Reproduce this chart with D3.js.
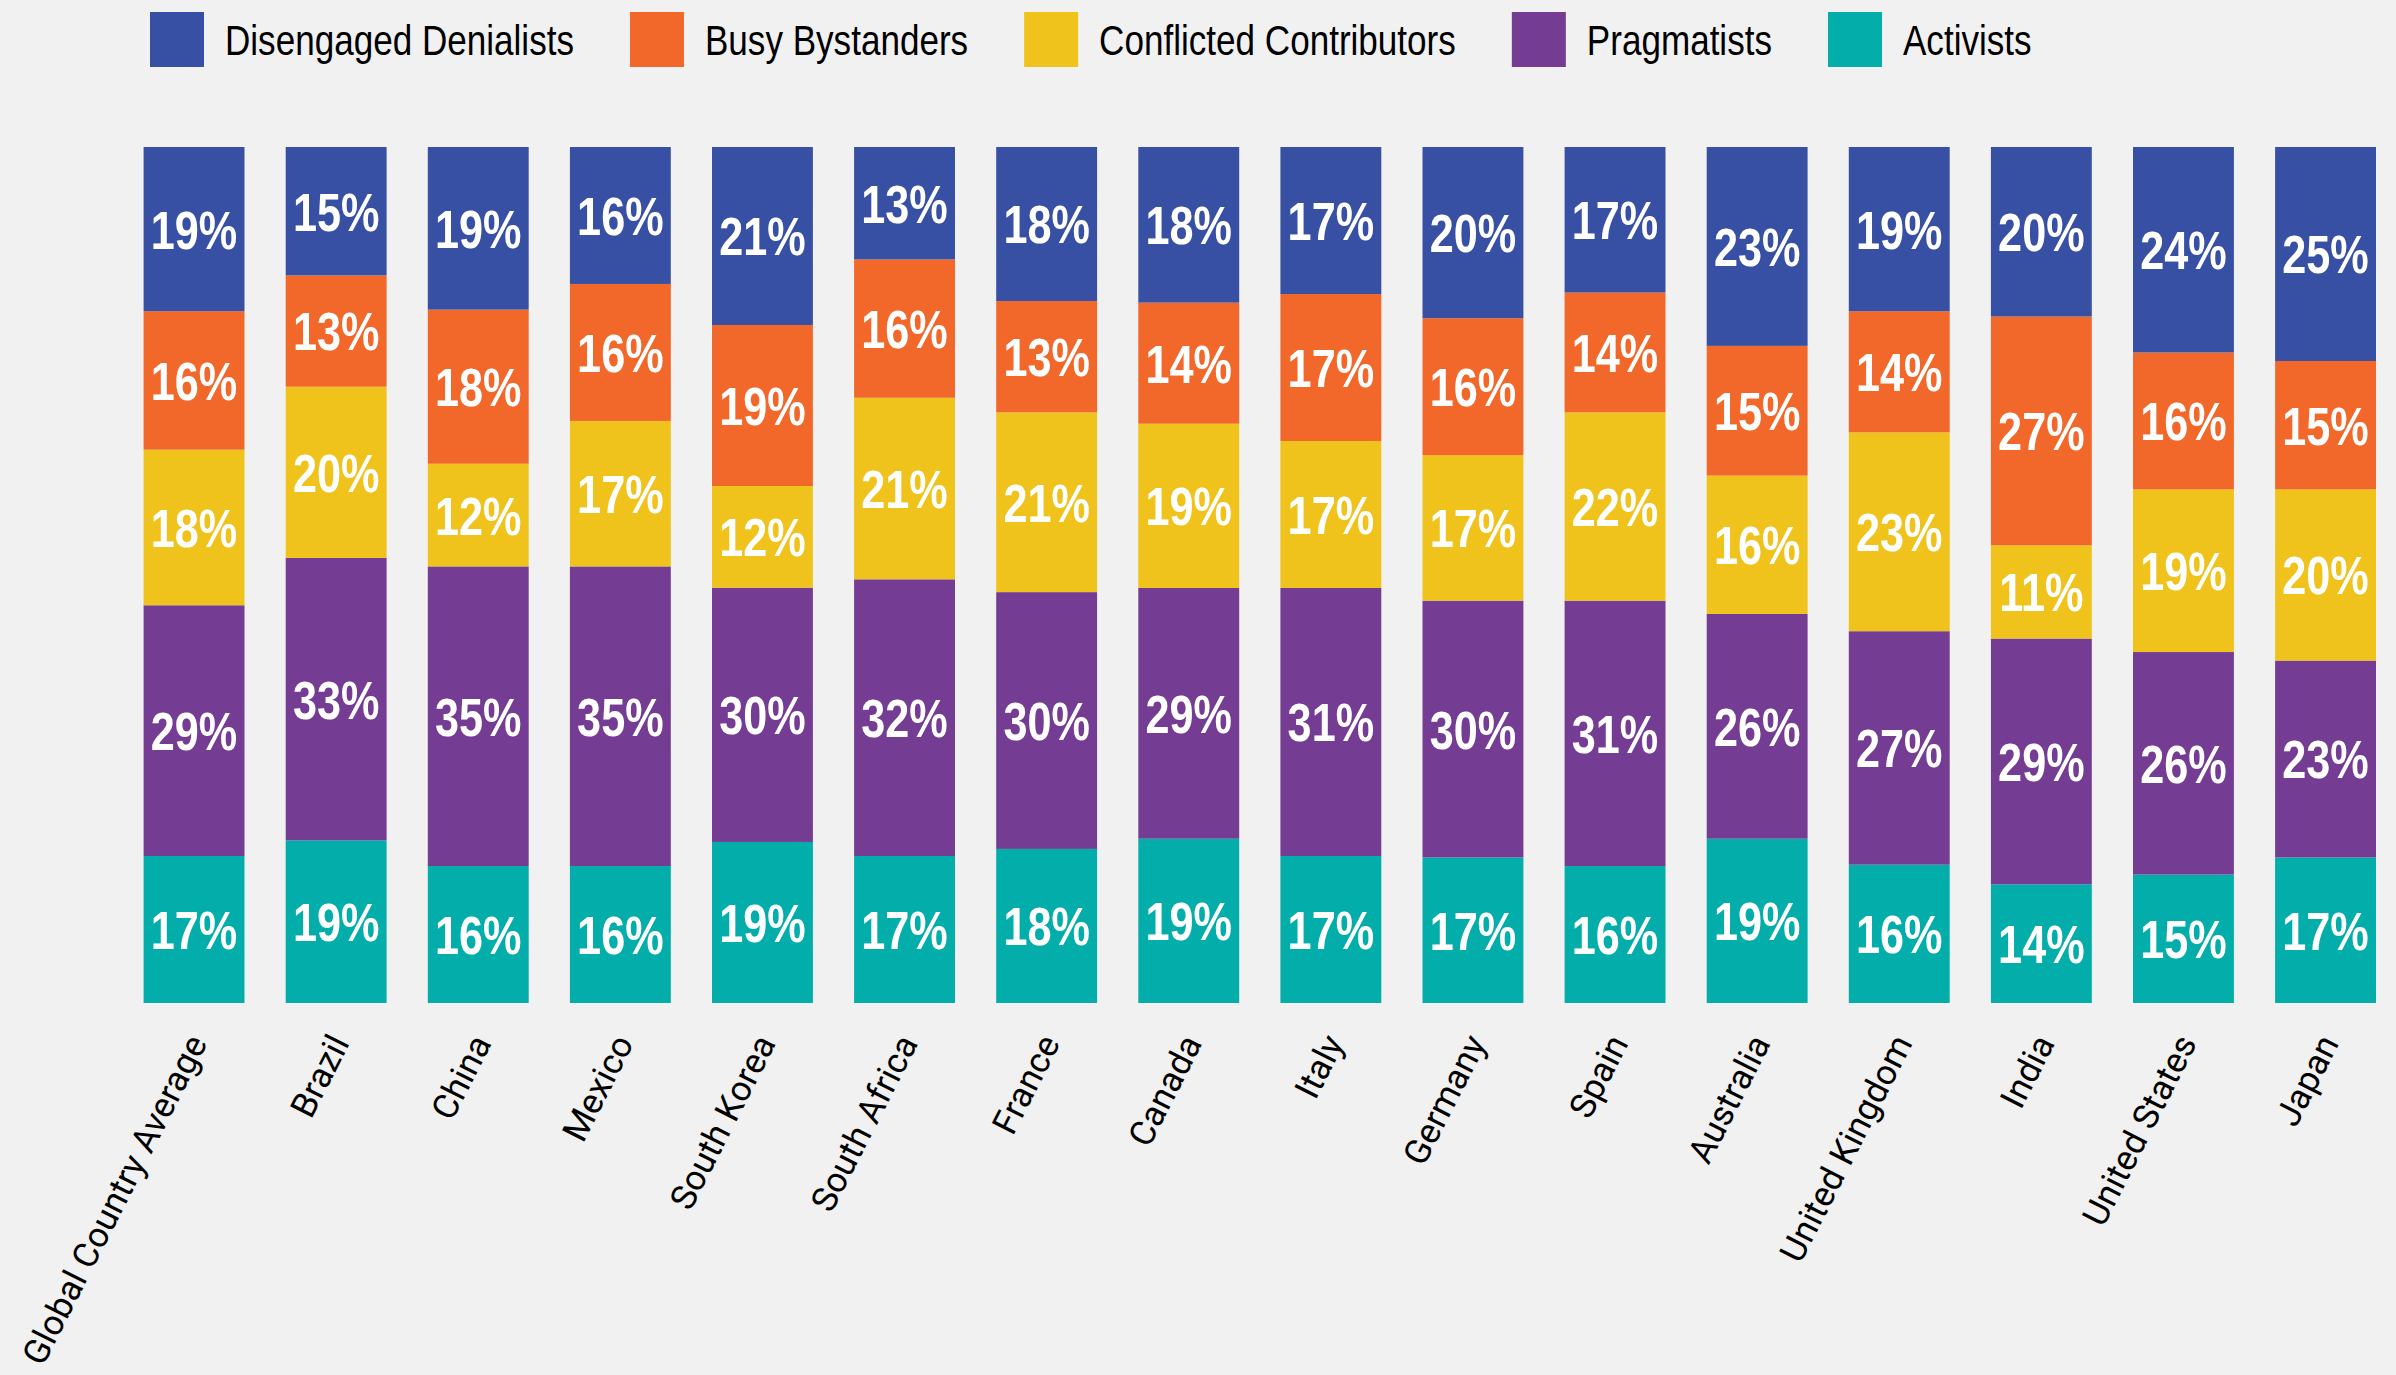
<!DOCTYPE html>
<html>
<head>
<meta charset="utf-8">
<script src="https://cdn.jsdelivr.net/npm/d3@7"></script>
<style>
  html, body { margin: 0; padding: 0; background: #f1f1f1; }
  svg { display: block; }
</style>
</head>
<body>
<svg id="chart" width="2396" height="1375"></svg>
<script>
// Climate segments by country, share of respondents (%)
const countries = ["Global Country Average", "Brazil", "China", "Mexico", "South Korea", "South Africa",
  "France", "Canada", "Italy", "Germany", "Spain", "Australia", "United Kingdom", "India",
  "United States", "Japan"];

const disengaged  = [19, 15, 19, 16, 21, 13, 18, 18, 17, 20, 17, 23, 19, 20, 24, 25];
const busy        = [16, 13, 18, 16, 19, 16, 13, 14, 17, 16, 14, 15, 14, 27, 16, 15];
const conflicted  = [18, 20, 12, 17, 12, 21, 21, 19, 17, 17, 22, 16, 23, 11, 19, 20];
const pragmatists = [29, 33, 35, 35, 30, 32, 30, 29, 31, 30, 31, 26, 27, 29, 26, 23];
const activists   = [17, 19, 16, 16, 19, 17, 18, 19, 17, 17, 16, 19, 16, 14, 15, 17];

// Legend order (left to right) and stacking order (bottom to top)
const legendNames = ["Disengaged Denialists", "Busy Bystanders", "Conflicted Contributors", "Pragmatists", "Activists"];
const stackNames  = ["Activists", "Pragmatists", "Conflicted Contributors", "Busy Bystanders", "Disengaged Denialists"];
const palette = {
  "Disengaged Denialists": "#3750a3",
  "Busy Bystanders": "#f2672a",
  "Conflicted Contributors": "#efc31b",
  "Pragmatists": "#743c93",
  "Activists": "#03adaa"
};

const seriesValues = {
  "Disengaged Denialists": disengaged,
  "Busy Bystanders": busy,
  "Conflicted Contributors": conflicted,
  "Pragmatists": pragmatists,
  "Activists": activists
};

const rows = countries.map((c, i) => {
  const r = { country: c };
  stackNames.forEach(k => { r[k] = seriesValues[k][i]; });
  return r;
});

// Squeeze a text element horizontally to imitate a condensed face
function condense(sel, factor) {
  sel.each(function () {
    const len = this.getComputedTextLength();
    d3.select(this)
      .attr("textLength", len * factor)
      .attr("lengthAdjust", "spacingAndGlyphs");
  });
}

const svg = d3.select("#chart");
const plotTop = 147, plotBottom = 1003;

const x = d3.scaleBand()
  .domain(countries)
  .range([123, 123 + 142.1 * countries.length])
  .paddingInner(0.29)
  .paddingOuter(0.145);

const y = d3.scaleLinear().domain([0, 1]).range([plotBottom, plotTop]);

const stacked = d3.stack()
  .keys(stackNames)
  .offset(d3.stackOffsetExpand)(rows);

const layer = svg.append("g").selectAll("g")
  .data(stacked)
  .join("g")
  .attr("fill", d => palette[d.key]);

layer.selectAll("rect")
  .data(d => d.map(p => Object.assign(p, { key: d.key })))
  .join("rect")
  .attr("x", d => x(d.data.country))
  .attr("width", x.bandwidth())
  .attr("y", d => y(d[1]))
  .attr("height", d => y(d[0]) - y(d[1]));

// Value labels centred in each segment
layer.selectAll("text")
  .data(d => d)
  .join("text")
  .attr("x", d => x(d.data.country) + x.bandwidth() / 2)
  .attr("y", d => (y(d[0]) + y(d[1])) / 2)
  .attr("dy", "0.36em")
  .attr("text-anchor", "middle")
  .attr("fill", "#ffffff")
  .style("font-family", "'Liberation Sans', Arial, sans-serif")
  .style("font-weight", "bold")
  .style("font-size", "54px")
  .text(d => d.data[d.key] + "%")
  .call(condense, 0.8);

// Category axis with rotated labels
const axis = svg.append("g")
  .attr("transform", `translate(0, ${plotBottom})`)
  .call(d3.axisBottom(x).tickSize(0).tickPadding(0));
axis.select(".domain").remove();
axis.selectAll("text")
  .attr("fill", "#000")
  .style("font-family", "Roboto, 'Liberation Sans', sans-serif")
  .style("font-size", "35px")
  .attr("text-anchor", "end")
  .attr("dy", null)
  .attr("y", null)
  .attr("transform", "translate(14, 40) rotate(-63)");

// Legend
const legend = svg.append("g").attr("transform", "translate(150, 12)");
let lx = 0;
legendNames.forEach(name => {
  const g = legend.append("g").attr("transform", `translate(${lx}, 0)`);
  g.append("rect").attr("width", 54).attr("height", 55).attr("fill", palette[name]);
  const t = g.append("text")
    .attr("x", 75)
    .attr("y", 43)
    .attr("fill", "#000")
    .style("font-family", "'Liberation Sans', Arial, sans-serif")
    .style("font-size", "42px")
    .text(name)
    .call(condense, 0.835);
  lx += 75 + (+t.attr("textLength")) + 56;
});
</script>
</body>
</html>
